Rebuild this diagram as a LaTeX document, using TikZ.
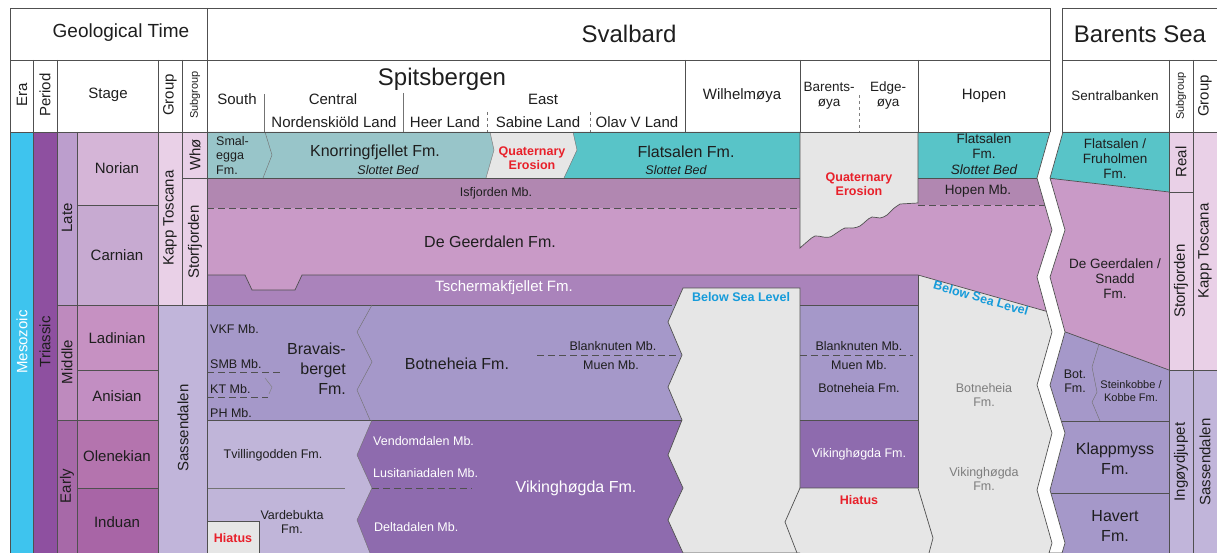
\documentclass[tikz,border=0pt]{standalone}
\usepackage{fontspec}
\setmainfont{Liberation Sans}
\definecolor{lineC}{RGB}{80,80,80}
\definecolor{txtC}{RGB}{30,30,30}
\definecolor{eraC}{RGB}{62,196,238}
\definecolor{perC}{RGB}{142,80,160}
\definecolor{lateC}{RGB}{188,158,205}
\definecolor{midC}{RGB}{190,138,190}
\definecolor{earlyC}{RGB}{167,105,168}
\definecolor{norC}{RGB}{213,181,215}
\definecolor{carC}{RGB}{199,170,209}
\definecolor{ladC}{RGB}{198,145,194}
\definecolor{aniC}{RGB}{194,142,194}
\definecolor{oleC}{RGB}{180,116,174}
\definecolor{indC}{RGB}{168,101,166}
\definecolor{kappC}{RGB}{233,208,231}
\definecolor{sassC}{RGB}{193,181,218}
\definecolor{knorC}{RGB}{152,197,201}
\definecolor{flatC}{RGB}{88,196,200}
\definecolor{eroC}{RGB}{230,230,230}
\definecolor{isfC}{RGB}{177,135,177}
\definecolor{geerC}{RGB}{201,154,199}
\definecolor{tschC}{RGB}{170,131,187}
\definecolor{botC}{RGB}{165,152,201}
\definecolor{vikC}{RGB}{142,107,174}
\definecolor{tvilC}{RGB}{192,181,217}
\definecolor{redT}{RGB}{232,32,42}
\definecolor{blueT}{RGB}{22,155,218}
\definecolor{grayT}{RGB}{125,125,125}
\begin{document}
\begin{tikzpicture}[x=1pt,y=-1pt,
        frm/.style={draw=lineC,line width=0.8pt},
        bnd/.style={draw=lineC,line width=0.7pt},
        faint/.style={draw=lineC!80,line width=0.45pt},
        dsh/.style={draw=lineC,line width=0.7pt,dash pattern=on 7pt off 4pt},
        lbl/.style={inner sep=0pt,align=center,text=txtC},
        sz11/.style={lbl,font=\fontsize{11}{13}\selectfont},
        sz12/.style={lbl,font=\fontsize{12.5}{14.5}\selectfont},
        sz13/.style={lbl,font=\fontsize{13.5}{15}\selectfont},
        sz15/.style={lbl,font=\fontsize{15}{17}\selectfont},
        sz16/.style={lbl,font=\fontsize{16}{20}\selectfont},
        sz19/.style={lbl,font=\fontsize{19}{22}\selectfont},
        sz24/.style={lbl,font=\fontsize{24}{28}\selectfont},
        ero/.style={inner sep=0pt,align=center,text=redT,font=\fontsize{12.5}{13.5}\selectfont\bfseries},
        bsl/.style={inner sep=0pt,text=blueT,font=\fontsize{12.5}{14}\selectfont\bfseries}]
\useasboundingbox (0,0) rectangle (1217,553);

% time scale columns
\fill[eraC] (10,132) rectangle (33,553);
\fill[perC] (33,132) rectangle (57,553);
\fill[lateC] (57,132) rectangle (77,305);
\fill[midC] (57,305) rectangle (77,420);
\fill[earlyC] (57,420) rectangle (77,553);
\fill[norC] (77,132) rectangle (158,205);
\fill[carC] (77,205) rectangle (158,305);
\fill[ladC] (77,305) rectangle (158,370);
\fill[aniC] (77,370) rectangle (158,420);
\fill[oleC] (77,420) rectangle (158,488);
\fill[indC] (77,488) rectangle (158,553);
\fill[kappC] (158,132) rectangle (207,305);
\fill[sassC] (158,305) rectangle (207,553);

% Spitsbergen, Wilhelmoya, Barentsoya, Hopen fills
\fill[geerC] (207,178) rectangle (1070,320);
\fill[isfC] (207,178) rectangle (800,208);
\fill[isfC] (918,178) rectangle (1070,205);
\fill[knorC] (207,132) -- (490,132) -- (494,150) -- (486,178) -- (207,178) -- cycle;
\fill[eroC] (490,132) -- (573,132) -- (577,150) -- (564,178) -- (486,178) -- (494,150) -- cycle;
\fill[flatC] (573,132) -- (800,132) -- (800,178) -- (564,178) -- (577,150) -- cycle;
\fill[flatC] (918,132) rectangle (1070,178);
\fill[tschC] (207,275) -- (245,275) -- (252,290) -- (295,290) -- (302,275) -- (918,275)
    -- (918,305) -- (207,305) -- cycle;
\fill[eroC] (918,275) -- (1070,318) -- (1070,553) -- (918,553) -- cycle;
\fill[botC] (207,305) rectangle (683,420);
\fill[botC] (800,305) rectangle (918,420);
\fill[tvilC] (207,420) rectangle (372,553);
\fill[vikC] (372,420) -- (683,420) -- (683,553) -- (370,553) -- (357,520) -- (372,488)
    -- (357,455) -- cycle;
\fill[vikC] (800,420) rectangle (918,488);

% erosion and hiatus blocks
\filldraw[fill=eroC,bnd] (800,132) -- plot[smooth,tension=0.6] coordinates {(800,248) (808,241)
    (815,236) (823,237) (830,237) (838,232) (845,228) (853,228) (860,226) (866,221)
    (872,217) (880,218) (887,215) (893,209) (900,204)} -- (918,203) -- (918,132);
\filldraw[fill=eroC,bnd] (683,288) -- (800,288) -- (800,553) -- (683,553) -- (668,520) -- (683,488)
    -- (668,455) -- (682,420) -- (668,387) -- (682,355) -- (668,322) -- cycle;
\filldraw[fill=eroC,bnd] (800,553) -- (797,553) -- (785,522) -- (800,488) -- (918,488) -- (933,538) -- (929,553);
\filldraw[fill=eroC,bnd] (207,553) -- (207,521) -- (259,521) -- (259,553);

% unit boundaries
\draw[faint] (265,132) -- (272,155) -- (263,178);
\draw[faint] (490,132) -- (494,150) -- (486,178);
\draw[faint] (573,132) -- (577,150) -- (564,178);
\draw[bnd] (207,178) -- (800,178);
\draw[bnd] (918,178) -- (1060,178);
\draw[dsh] (207,208) -- (800,208);
\draw[dsh] (918,205) -- (1060,205);
\draw[bnd] (207,275) -- (245,275) -- (252,290) -- (295,290) -- (302,275) -- (918,275) -- (1070,318);
\draw[bnd] (918,275) -- (918,488);
\draw[bnd] (207,305) -- (672,305);
\draw[bnd] (800,305) -- (918,305);
\draw[faint] (372,305) -- (357,332) -- (372,362) -- (357,390) -- (370,420);
\draw[bnd] (207,420) -- (682,420);
\draw[bnd] (800,420) -- (918,420);
\draw[faint] (372,420) -- (357,455) -- (372,488) -- (357,520) -- (370,553);
\draw[faint] (207,488) -- (345,488);
\draw[dsh] (207,372) -- (281,372);
\draw[dsh] (207,397) -- (268,397);
\draw[faint,draw=gray] (265,378) -- (272,387) -- (269,394);
\draw[dsh] (537,355) -- (680,355);
\draw[dsh] (800,355) -- (913,355);
\draw[dsh] (372,488) -- (472,488);

% Barents Sea fills, kept right of the break
\begin{scope}
\clip (1063,132) -- (1050,178) -- (1065,230) -- (1050,277) -- (1065,332) -- (1050,385)
    -- (1065,433) -- (1050,490) -- (1065,543) -- (1062,553) -- (1217,553) -- (1217,132) -- cycle;
\fill[flatC] (1030,132) -- (1169,132) -- (1169,192) -- (1030,176) -- cycle;
\fill[geerC] (1030,176) -- (1169,192) -- (1169,370) -- (1030,319) -- cycle;
\fill[botC] (1030,319) -- (1169,370) -- (1169,553) -- (1030,553) -- cycle;
\draw[bnd] (1030,176) -- (1169,192);
\draw[bnd] (1030,319) -- (1169,370);
\draw[faint] (1099,344) -- (1092,367) -- (1097,392) -- (1092,402) -- (1100,421);
\draw[bnd] (1030,421) -- (1169,421);
\draw[bnd] (1030,493) -- (1169,493);
\end{scope}
\fill[kappC] (1169,132) rectangle (1217,370);
\fill[sassC] (1169,370) rectangle (1217,553);

% the break between Svalbard and Barents Sea
\filldraw[fill=white,bnd] (1050,132) -- (1037,178) -- (1052,230) -- (1037,277) -- (1052,332)
    -- (1037,385) -- (1052,433) -- (1037,490) -- (1052,543) -- (1049,553)
    -- (1062,553) -- (1065,543) -- (1050,490) -- (1065,433) -- (1050,385) -- (1065,332)
    -- (1050,277) -- (1065,230) -- (1050,178) -- (1063,132);
\fill[white] (1050,0) rectangle (1062,132);

% frame and column lines
\draw[frm] (1050,8) -- (10,8) -- (10,553);
\draw[frm] (1062,8) -- (1217,8);
\draw[frm] (10,60) -- (1050,60);
\draw[frm] (1062,60) -- (1217,60);
\draw[frm] (10,132) -- (1050,132);
\draw[frm] (1062,132) -- (1217,132);
\draw[frm] (1050,8) -- (1050,132);
\draw[frm] (1062,8) -- (1062,132);
\draw[frm] (33,60) -- (33,553);
\draw[frm] (57,60) -- (57,553);
\draw[frm] (77,132) -- (77,553);
\draw[frm] (158,60) -- (158,553);
\draw[frm] (182,60) -- (182,305);
\draw[frm] (207,8) -- (207,553);
\draw[frm] (685,60) -- (685,132);
\draw[frm] (800,60) -- (800,132);
\draw[frm] (918,60) -- (918,132);
\draw[frm] (1169,60) -- (1169,553);
\draw[frm] (1193,60) -- (1193,553);
\draw[frm] (77,205) -- (158,205);
\draw[frm] (57,305) -- (207,305);
\draw[frm] (77,370) -- (158,370);
\draw[frm] (57,420) -- (158,420);
\draw[frm] (77,488) -- (158,488);
\draw[frm] (182,178) -- (207,178);
\draw[frm] (1169,192) -- (1193,192);
\draw[frm] (1169,370) -- (1217,370);
\draw[faint] (264,94) -- (264,132);
\draw[faint] (403,93) -- (403,132);
\draw[faint,dashed] (487,112) -- (487,132);
\draw[faint,dashed] (590,112) -- (590,132);
\draw[faint,dashed,draw=gray] (859,95) -- (859,132);

% header texts
\node[sz19] (geoTime) at (121,33) {Geological Time};
\node[sz24] (svalbard) at (629,34) {Svalbard};
\node[sz24] (barSea) at (1140,34) {Barents Sea};
\node[sz15,rotate=90] (hEra) at (22,95) {Era};
\node[sz15,rotate=90] (hPer) at (45,95) {Period};
\node[sz15] (hStage) at (108,95) {Stage};
\node[sz15,rotate=90] (hGrp) at (170,95) {Group};
\node[sz11,rotate=90] (hSub) at (195,95) {Subgroup};
\node[sz24] (spits) at (442,79) {Spitsbergen};
\node[sz15] (hSouth) at (237,99) {South};
\node[sz15] (hCentral) at (333,99) {Central};
\node[sz15] (hEast) at (543,99) {East};
\node[sz15] (hNord) at (334,122) {Nordenskiöld Land};
\node[sz15] (hHeer) at (445,122) {Heer Land};
\node[sz15] (hSabine) at (538,122) {Sabine Land};
\node[sz15] (hOlav) at (637,122) {Olav V Land};
\node[sz15] (hWilh) at (742,96) {Wilhelmøya};
\node[sz13] (hBar) at (829,96) {Barents-\\øya};
\node[sz13] (hEdge) at (888,96) {Edge-\\øya};
\node[sz15] (hHopen) at (984,96) {Hopen};
\node[sz13] (hSentr) at (1115,96) {Sentralbanken};
\node[sz11,rotate=90] (hSub2) at (1181,96) {Subgroup};
\node[sz15,rotate=90] (hGrp2) at (1205,96) {Group};

% time scale texts
\node[sz15,rotate=90,text=white] (tMeso) at (22,342) {Mesozoic};
\node[sz15,rotate=90] (tTrias) at (45,342) {Triassic};
\node[sz15,rotate=90] (tLate) at (67,218) {Late};
\node[sz15,rotate=90] (tMid) at (67,362) {Middle};
\node[sz15,rotate=90] (tEarly) at (67,486) {Early};
\node[sz15] (tNor) at (117,168) {Norian};
\node[sz15] (tCar) at (117,255) {Carnian};
\node[sz15] (tLad) at (117,338) {Ladinian};
\node[sz15] (tAni) at (117,396) {Anisian};
\node[sz15] (tOle) at (117,456) {Olenekian};
\node[sz15] (tInd) at (117,522) {Induan};
\node[sz15,rotate=90] (tKapp) at (170,218) {Kapp Toscana};
\node[sz15,rotate=90] (tWho) at (195,155) {Whø};
\node[sz15,rotate=90] (tStorf) at (195,242) {Storfjorden};
\node[sz15,rotate=90] (tSass) at (183,428) {Sassendalen};

% Spitsbergen texts
\node[sz12,align=left,anchor=west] (smal) at (216,155) {Smal-\\egga\\Fm.};
\node[sz16] (knor) at (375,152) {Knorringfjellet Fm.};
\node[sz12,font=\fontsize{12.5}{14}\itshape\selectfont] (slot1) at (388,170) {Slottet Bed};
\node[ero] (qero1) at (532,158) {Quaternary\\Erosion};
\node[sz16] (flat1) at (686,152) {Flatsalen Fm.};
\node[sz12,font=\fontsize{12.5}{14}\itshape\selectfont] (slot2) at (676,170) {Slottet Bed};
\node[sz12] (isf) at (496,193) {Isfjorden Mb.};
\node[sz16] (geer) at (490,242) {De Geerdalen Fm.};
\node[sz15,text=white] (tsch) at (504,288) {Tschermakfjellet Fm.};
\node[sz12,anchor=west] (vkf) at (210,329) {VKF Mb.};
\node[sz12,anchor=west] (smb) at (210,364) {SMB Mb.};
\node[sz12,anchor=west] (kt) at (210,389) {KT Mb.};
\node[sz12,anchor=west] (ph) at (210,413) {PH Mb.};
\node[sz16,align=right,anchor=east] (brav) at (346,369) {Bravais-\\berget\\Fm.};
\node[sz16] (botn) at (457,364) {Botneheia Fm.};
\node[sz12] (blank1) at (613,346) {Blanknuten Mb.};
\node[sz12] (muen1) at (611,365) {Muen Mb.};
\node[sz12] (tvil) at (273,455) {Tvillingodden Fm.};
\node[sz12] (vard) at (292,522) {Vardebukta\\Fm.};
\node[ero] (hiat1) at (233,538) {Hiatus};
\node[sz12,text=white,anchor=west] (vend) at (373,441) {Vendomdalen Mb.};
\node[sz12,text=white,anchor=west] (lusi) at (373,473) {Lusitaniadalen Mb.};
\node[sz12,text=white,anchor=west] (delt) at (374,527) {Deltadalen Mb.};
\node[sz16,text=white] (vik1) at (576,488) {Vikinghøgda Fm.};

% Wilhelmoya, Barentsoya and Hopen texts
\node[bsl] (bsl1) at (741,297) {Below Sea Level};
\node[ero] (qero2) at (859,184) {Quaternary\\Erosion};
\node[sz12] (blank2) at (859,346) {Blanknuten Mb.};
\node[sz12] (muen2) at (859,365) {Muen Mb.};
\node[sz12] (botn2) at (859,388) {Botneheia Fm.};
\node[sz12,text=white] (vik2) at (859,454) {Vikinghøgda Fm.};
\node[ero] (hiat2) at (859,500) {Hiatus};
\node[sz13] (flat2) at (984,146) {Flatsalen\\Fm.};
\node[sz13,font=\fontsize{13.5}{15}\itshape\selectfont] (slot3) at (984,170) {Slottet Bed};
\node[sz13] (hopMb) at (978,191) {Hopen Mb.};
\node[bsl,rotate=-16] (bsl2) at (981,298) {Below Sea Level};
\node[sz12,text=grayT] (botn3) at (984,395) {Botneheia\\Fm.};
\node[sz12,text=grayT] (vik3) at (984,479) {Vikinghøgda\\Fm.};

% Barents Sea texts
\node[sz13] (fruh) at (1115,159) {Flatsalen /\\Fruholmen\\Fm.};
\node[sz13] (snadd) at (1115,279) {De Geerdalen /\\Snadd\\Fm.};
\node[sz12] (bot4) at (1075,381) {Bot.\\Fm.};
\node[sz11] (stein) at (1131,391) {Steinkobbe /\\Kobbe Fm.};
\node[sz16] (klapp) at (1115,459) {Klappmyss\\Fm.};
\node[sz16] (havert) at (1115,526) {Havert\\Fm.};
\node[sz15,rotate=90] (real) at (1181,162) {Real};
\node[sz15,rotate=90] (storf2) at (1181,281) {Storfjorden};
\node[sz15,rotate=90] (ingoy) at (1181,462) {Ingøydjupet};
\node[sz15,rotate=90] (kapp2) at (1205,251) {Kapp Toscana};
\node[sz15,rotate=90] (sass2) at (1205,462) {Sassendalen};
\end{tikzpicture}
\end{document}
